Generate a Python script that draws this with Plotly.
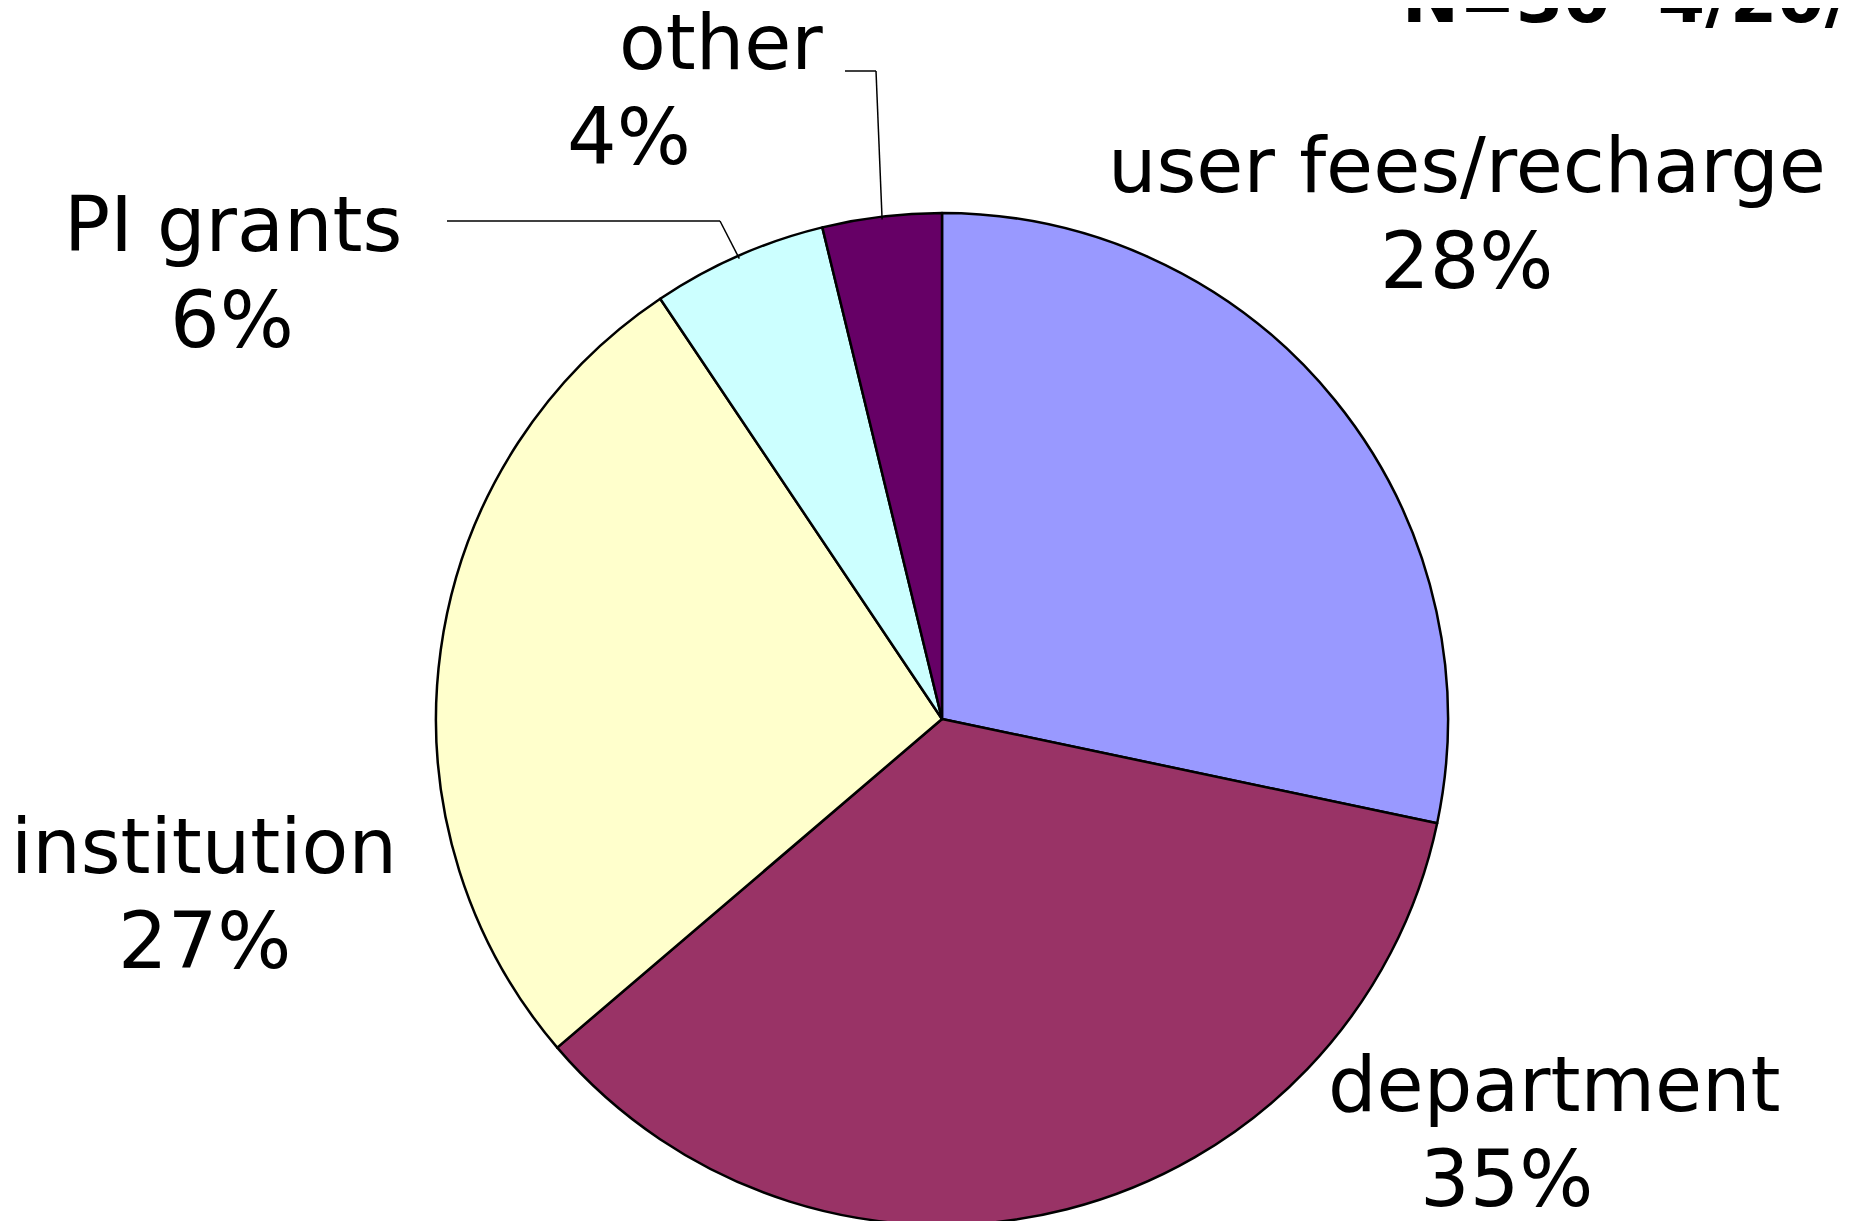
import math
import plotly.graph_objs as go

# datos
labels = ["user fees/recharge", "department", "institution", "PI grants", "other"]
values = [28.3, 35.45, 26.85, 5.6, 3.8]
colors = ["#9999FF", "#993366", "#FFFFCC", "#CCFFFF", "#660066"]
title_text = "N=30  4/20/07"

W, H = 1854, 1221
FONT = "DejaVu Sans, Verdana, sans-serif"
OFF = 8  # page margin of the html body

# pie area in page pixels
cx, cy, r = 942, 719, 503
r_dom = 506


def px(x):
    return (x - OFF) / W


def py(y):
    return 1 - (y - OFF) / H


fig = go.Figure()
fig.add_trace(go.Pie(
    labels=labels, values=values, sort=False, direction="clockwise", rotation=0,
    marker=dict(colors=colors, line=dict(color="black", width=2.5)),
    textinfo="none", hoverinfo="label+percent", showlegend=False,
    domain=dict(x=[px(cx - r_dom), px(cx + r_dom)], y=[max(0, py(cy + r_dom)), py(cy - r_dom)]),
))

# label positions (name line, percent line) in page pixels
name_pos = [(1467, 166), (1554, 1084), (204, 846), (233, 224), (721, 42)]
pct_pos = [(1466, 261), (1506, 1179), (204, 941), (232, 320), (629, 137)]

annotations = []
for lab, val, (nx, ny), (qx, qy) in zip(labels, values, name_pos, pct_pos):
    annotations.append(dict(text=lab, x=px(nx), y=py(ny), xref="paper", yref="paper",
                            showarrow=False, xanchor="center", yanchor="middle",
                            font=dict(family=FONT, size=76.5, color="black")))
    annotations.append(dict(text=f"{val:.0f}%", x=px(qx), y=py(qy), xref="paper", yref="paper",
                            showarrow=False, xanchor="center", yanchor="middle",
                            font=dict(family=FONT, size=78, color="black")))

# titulo (cortado arriba)
annotations.append(dict(text=f"<b>{title_text}</b>", x=px(1400), y=py(-1), xref="paper", yref="paper",
                        showarrow=False, xanchor="left", yanchor="middle",
                        font=dict(family=FONT, size=68, color="black")))

# leader lines for the small slices
total = sum(values)
cum = 0
mids = []
for v in values:
    mids.append((cum + v / 2) / total)
    cum += v
elbows = {3: [(447, 221), (720, 221)], 4: [(845, 71), (876, 71)]}
shapes = []
for i, pts in elbows.items():
    th = 2 * math.pi * mids[i]
    ex, ey = cx + r * math.sin(th), cy - r * math.cos(th)
    allp = pts + [(ex, ey)]
    for (x0, y0), (x1, y1) in zip(allp[:-1], allp[1:]):
        shapes.append(dict(type="line", xref="paper", yref="paper",
                           x0=px(x0), y0=py(y0), x1=px(x1), y1=py(y1),
                           line=dict(color="black", width=1.5)))

fig.update_layout(width=W, height=H, margin=dict(l=0, r=0, t=0, b=0),
                  paper_bgcolor="white", plot_bgcolor="white",
                  annotations=annotations, shapes=shapes)

fig.write_html("out.html")
